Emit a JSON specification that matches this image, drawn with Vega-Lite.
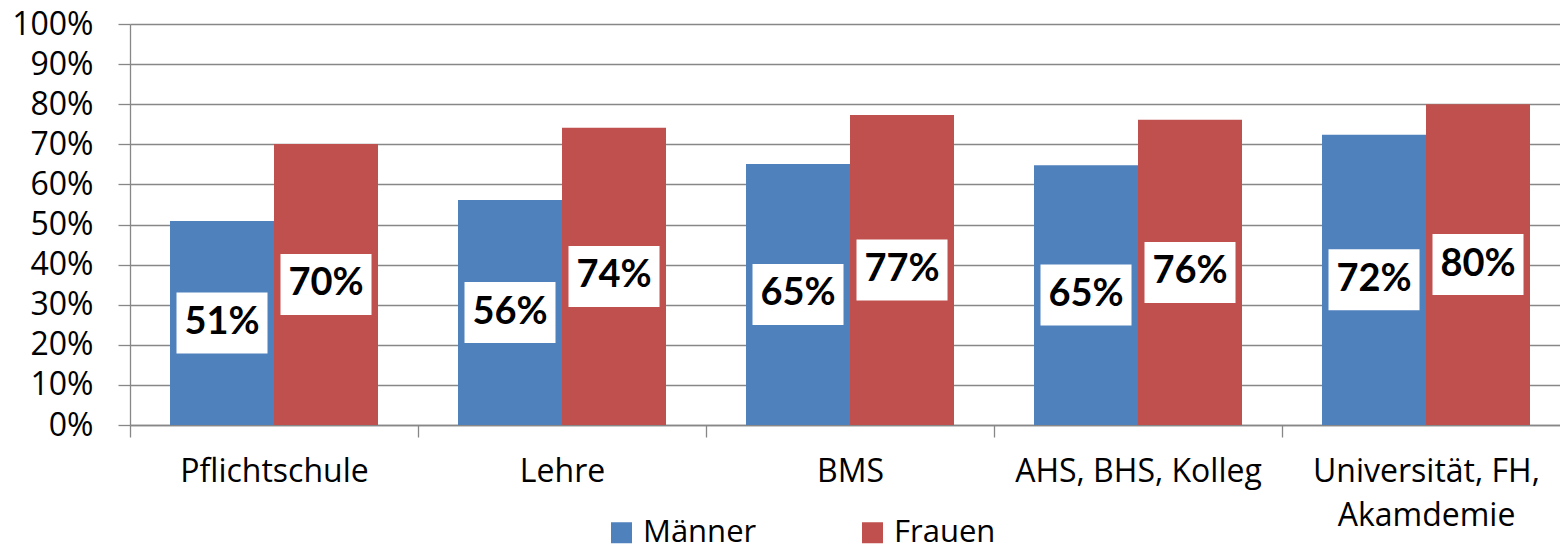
{
  "$schema": "https://vega.github.io/schema/vega-lite/v6.json",
  "autosize": {"type": "none"},
  "padding": {"left": 130, "top": 24, "right": 0, "bottom": 123},
  "width": 1430,
  "height": 401,
  "config": {
    "view": {"stroke": null},
    "font": "Open Sans"
  },
  "data": {
    "values": [
      {"cat": "Pflichtschule", "gender": "Männer", "value": 0.509},
      {"cat": "Pflichtschule", "gender": "Frauen", "value": 0.701},
      {"cat": "Lehre", "gender": "Männer", "value": 0.561},
      {"cat": "Lehre", "gender": "Frauen", "value": 0.741},
      {"cat": "BMS", "gender": "Männer", "value": 0.651},
      {"cat": "BMS", "gender": "Frauen", "value": 0.773},
      {"cat": "AHS, BHS, Kolleg", "gender": "Männer", "value": 0.648},
      {"cat": "AHS, BHS, Kolleg", "gender": "Frauen", "value": 0.761},
      {"cat": "Universität, FH, Akamdemie", "gender": "Männer", "value": 0.724},
      {"cat": "Universität, FH, Akamdemie", "gender": "Frauen", "value": 0.800}
    ]
  },
  "encoding": {
    "x": {
      "field": "cat",
      "type": "nominal",
      "sort": null,
      "scale": {"paddingInner": 0, "paddingOuter": 0, "range": [0, 1440]},
      "axis": {
        "title": null,
        "labelAngle": 0,
        "labelFont": "Open Sans",
        "labelFontSize": 32,
        "labelColor": "#000000",
        "labelPadding": 19,
        "labelLimit": 400,
        "labelOverlap": false,
        "labelLineHeight": 44,
        "labelExpr": "datum.label == 'Universität, FH, Akamdemie' ? ['Universität, FH,', 'Akamdemie'] : datum.label",
        "tickBand": "extent",
        "tickSize": 12,
        "tickColor": "#878787",
        "tickWidth": 1.3,
        "domainColor": "#878787",
        "domainWidth": 1.3,
        "grid": false
      }
    },
    "xOffset": {
      "field": "gender",
      "type": "nominal",
      "sort": ["Männer", "Frauen"],
      "scale": {"paddingInner": 0, "paddingOuter": 0.3846}
    }
  },
  "layer": [
    {
      "mark": {"type": "bar"},
      "encoding": {
        "y": {
          "field": "value",
          "type": "quantitative",
          "scale": {"domain": [0, 1], "nice": false},
          "axis": {
            "title": null,
            "values": [0, 0.1, 0.2, 0.3, 0.4, 0.5, 0.6, 0.7, 0.8, 0.9, 1],
            "format": ".0%",
            "labelFont": "Open Sans",
            "labelFontSize": 32,
            "labelColor": "#000000",
            "labelPadding": 25,
            "tickSize": 12,
            "tickColor": "#878787",
            "tickWidth": 1.3,
            "domainColor": "#878787",
            "domainWidth": 1.3,
            "grid": true,
            "gridColor": "#878787",
            "gridWidth": 1.3
          }
        },
        "color": {
          "field": "gender",
          "type": "nominal",
          "sort": ["Männer", "Frauen"],
          "scale": {"domain": ["Männer", "Frauen"], "range": ["#4F81BD", "#C0504D"]},
          "legend": {
            "title": null,
            "orient": "none",
            "direction": "horizontal",
            "legendX": 476,
            "legendY": 493,
            "symbolType": "square",
            "symbolSize": 441,
            "symbolStrokeWidth": 0,
            "symbolOpacity": 1,
            "labelFont": "Open Sans",
            "labelFontSize": 31,
            "labelColor": "#000000",
            "labelOffset": 6,
            "columnPadding": 100,
            "padding": 0
          }
        }
      }
    },
    {
      "transform": [{"calculate": "datum.value / 2", "as": "mid"}],
      "mark": {
        "type": "point",
        "shape": "M-1,-0.67L1,-0.67L1,0.67L-1,0.67Z",
        "filled": true,
        "fill": "#FFFFFF",
        "opacity": 1,
        "strokeWidth": 0,
        "size": 8281
      },
      "encoding": {
        "y": {"field": "mid", "type": "quantitative"}
      }
    },
    {
      "transform": [{"calculate": "datum.value / 2", "as": "mid"}],
      "mark": {
        "type": "text",
        "font": "Lato",
        "fontSize": 38,
        "fontWeight": "bold",
        "color": "#000000",
        "baseline": "middle",
        "align": "center"
      },
      "encoding": {
        "y": {"field": "mid", "type": "quantitative"},
        "text": {"field": "value", "type": "quantitative", "format": ".0%"}
      }
    }
  ]
}
